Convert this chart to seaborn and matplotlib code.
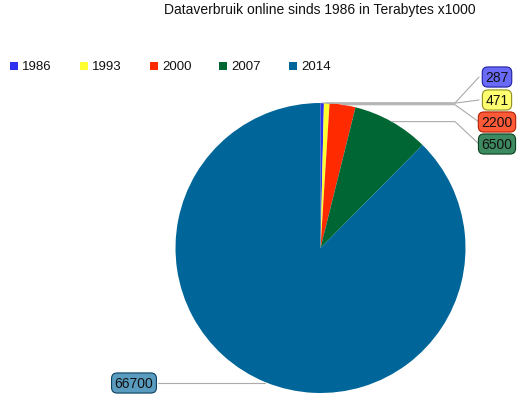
import numpy as np
import matplotlib
matplotlib.use("Agg")
import matplotlib.pyplot as plt
import seaborn as sns
from matplotlib.patches import Rectangle

years = ["1986", "1993", "2000", "2007", "2014"]
values = [287, 471, 2200, 6500, 66700]
colors = ["#3030f0", "#ffff30", "#ff2a00", "#006633", "#006699"]
box_colors = ["#6a6af8", "#ffff70", "#ff5a38", "#3e8a60", "#5a9cc0"]
box_edges = ["#2020a0", "#909020", "#b02000", "#0a4020", "#0a4060"]
title = "Dataverbruik online sinds 1986 in Terabytes x1000"

sns.set_theme(style="white")
plt.rcParams['font.family'] = ['Liberation Sans', 'DejaVu Sans']

W, H = 530, 410
fig = plt.figure(figsize=(W / 100, H / 100), dpi=100)
ax = fig.add_axes([0, 0, 1, 1])

def Y(py):
    return H - py

cx, cy, r = 320.5, Y(249), 145
wedges, _ = ax.pie(values, colors=colors, startangle=90, counterclock=False,
                   center=(cx, cy), radius=r, frame=True,
                   wedgeprops=dict(linewidth=0))
ax.set_xlim(0, W)
ax.set_ylim(0, H)
ax.set_aspect("equal")
ax.axis("off")

# title
ax.text(320, Y(10), title, ha="center", va="center", fontsize=10, color="#111111")

# legend
leg_x = [10, 80, 150, 219, 289]
for x, yr, c in zip(leg_x, years, colors):
    ax.add_patch(Rectangle((x, Y(71)), 8, 8, facecolor=c, edgecolor="none"))
    ax.text(x + 12, Y(67), yr, ha="left", va="center", fontsize=9.5, color="#111111")

# labels with leader lines
total = sum(values)
cum = 0
label_pos = [(497, 78), (497, 101), (497, 123), (497, 145), (134, 384)]
for i, (v, (lx, ly)) in enumerate(zip(values, label_pos)):
    mid = (cum + v / 2) / total * 2 * np.pi
    cum += v
    px = cx + r * np.sin(mid)
    py = cy + r * np.cos(mid)
    if lx > cx:
        xs = [px, 455, lx - 18]
        ys = [py, py, Y(ly)]
        ax.plot(xs, ys, color="#aaaaaa", lw=0.8, zorder=1)
    else:
        ax.plot([lx + 24, px], [Y(ly), Y(ly)], color="#aaaaaa", lw=0.8, zorder=1)
    ax.text(lx, Y(ly), f"{v}", ha="center", va="center", fontsize=10, color="#111111",
            bbox=dict(boxstyle="round,pad=0.22,rounding_size=0.4",
                      facecolor=box_colors[i], edgecolor=box_edges[i], lw=0.8),
            zorder=3)

fig.savefig("out.png", dpi=100)
